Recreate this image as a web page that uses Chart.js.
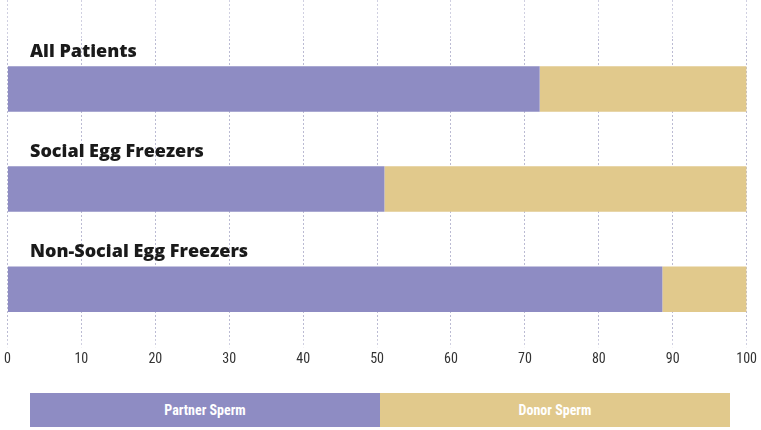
<!DOCTYPE html>
<html>
<head>
<meta charset="utf-8">
<script src="https://cdn.jsdelivr.net/npm/chart.js@4.4.1/dist/chart.umd.min.js"></script>
<style>
  html, body { margin:0; padding:0; background:#fff; }
  #wrap { position:relative; width:761px; height:430px; overflow:hidden; }
  #cv { position:absolute; left:0; top:0; }
  #legend { position:absolute; left:30px; top:393px; width:700px; height:34px; display:flex; }
  #legend div { flex:1; display:flex; align-items:center; justify-content:center;
    color:#fff; font:bold 14px "Liberation Sans Narrow", "Roboto Condensed", Roboto, sans-serif; }
</style>
</head>
<body>
<div id="wrap">
  <canvas id="cv" width="761" height="372"></canvas>
  <div id="legend"></div>
</div>
<script>
const categories = ["All Patients", "Social Egg Freezers", "Non-Social Egg Freezers"];
const seriesNames = ["Partner Sperm", "Donor Sperm"];
const partnerSperm = [72, 51, 88.6];
const donorSperm = [28, 49, 11.4];
const xTicks = [0, 10, 20, 30, 40, 50, 60, 70, 80, 90, 100];

const colors = ["#8e8cc3", "#e1c98c"];

const legend = document.getElementById('legend');
seriesNames.forEach((n, i) => {
  const d = document.createElement('div');
  d.textContent = n;
  d.style.background = colors[i];
  legend.appendChild(d);
});

const catLabelPlugin = {
  id: 'catLabels',
  afterDatasetsDraw(chart) {
    const ctx = chart.ctx;
    const meta = chart.getDatasetMeta(0);
    ctx.save();
    ctx.fillStyle = '#1a1a1a';
    ctx.font = '800 18px "Open Sans", Lato, sans-serif';
    ctx.textBaseline = 'alphabetic';
    ctx.textAlign = 'left';
    meta.data.forEach((bar, i) => {
      ctx.fillText(categories[i], 30, bar.y - bar.height / 2 - 9);
    });
    ctx.restore();
  }
};

const gridColor = 'rgba(170,170,200,0.55)';

new Chart(document.getElementById('cv'), {
  type: 'bar',
  data: {
    labels: categories,
    datasets: [
      { label: seriesNames[0], data: partnerSperm, backgroundColor: colors[0], borderWidth: 0,
        categoryPercentage: 1, barPercentage: 0.455 },
      { label: seriesNames[1], data: donorSperm, backgroundColor: colors[1], borderWidth: 0,
        categoryPercentage: 1, barPercentage: 0.455 }
    ]
  },
  options: {
    indexAxis: 'y',
    responsive: false,
    animation: false,
    layout: { padding: { left: 7, right: 13, top: 0, bottom: 0 } },
    plugins: { legend: { display: false }, tooltip: { enabled: false } },
    scales: {
      x: {
        type: 'linear', position: 'bottom', stacked: true, min: 0, max: 100,
        afterBuildTicks: (s) => { s.ticks = xTicks.map(v => ({ value: v })); },
        border: { display: false, dash: [2, 2] },
        grid: { color: gridColor, tickColor: gridColor, tickLength: 8, tickBorderDash: [2, 2] },
        ticks: { color: '#333', padding: 4,
          font: { family: '"Liberation Sans Narrow", "Roboto Condensed", Roboto, sans-serif', size: 14 } }
      },
      x2: {
        type: 'linear', position: 'top', min: 0, max: 100,
        afterBuildTicks: (s) => { s.ticks = xTicks.map(v => ({ value: v })); },
        border: { display: false, dash: [2, 2] },
        grid: { color: gridColor, tickColor: gridColor, tickLength: 39, tickBorderDash: [2, 2] },
        ticks: { display: false }
      },
      y: {
        stacked: true, display: false,
        grid: { display: false }
      }
    }
  },
  plugins: [catLabelPlugin]
});
</script>
</body>
</html>
